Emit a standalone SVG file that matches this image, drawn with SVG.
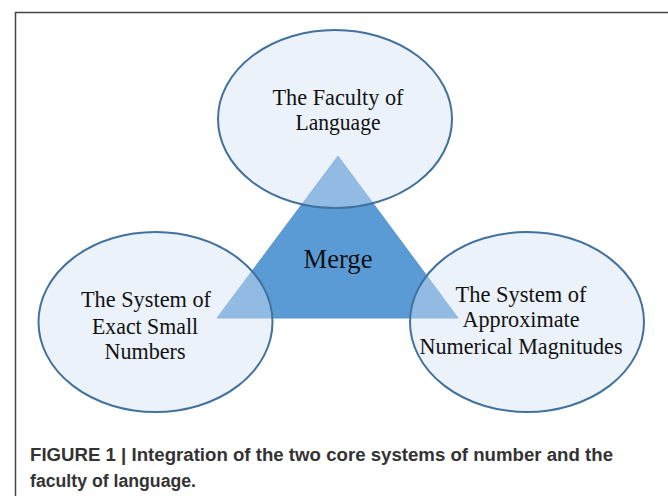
<svg xmlns="http://www.w3.org/2000/svg" width="668" height="496" viewBox="0 0 668 496">
<style>
.node ellipse{fill:rgb(210,227,243);fill-opacity:0.45;stroke:#41719C;stroke-width:2}
.lbl{font-family:"Liberation Serif","Times New Roman",serif;font-size:23px;fill:#111;text-anchor:middle}
.cap{font-family:"Liberation Sans",Arial,sans-serif;font-size:17.5px;font-weight:bold;fill:#333}
</style>
<rect x="0" y="0" width="668" height="496" fill="#fff"/>
<path d="M15.5 496 V12.5 H668" fill="none" stroke="#444" stroke-width="1.5"/>
<g id="merge">
<polygon points="338,156 217,318 458,318" fill="#5B9BD5" stroke="#5A93CB" stroke-width="1"/>
<text class="lbl" x="338" y="268" style="font-size:27px" textLength="69" lengthAdjust="spacingAndGlyphs">Merge</text>
</g>
<g id="faculty" class="node">
<ellipse cx="335" cy="119" rx="117" ry="89"/>
<text class="lbl" x="338" y="105" textLength="131" lengthAdjust="spacingAndGlyphs">The Faculty of</text>
<text class="lbl" x="338" y="130" textLength="85" lengthAdjust="spacingAndGlyphs">Language</text>
</g>
<g id="exact" class="node">
<ellipse cx="155.5" cy="322" rx="117" ry="90"/>
<text class="lbl" x="146" y="307" textLength="130" lengthAdjust="spacingAndGlyphs">The System of</text>
<text class="lbl" x="145" y="334" textLength="106" lengthAdjust="spacingAndGlyphs">Exact Small</text>
<text class="lbl" x="145" y="359" textLength="81" lengthAdjust="spacingAndGlyphs">Numbers</text>
</g>
<g id="approx" class="node">
<ellipse cx="527" cy="322" rx="117" ry="90"/>
<text class="lbl" x="521" y="302" textLength="131" lengthAdjust="spacingAndGlyphs">The System of</text>
<text class="lbl" x="521" y="327" textLength="117" lengthAdjust="spacingAndGlyphs">Approximate</text>
<text class="lbl" x="521" y="354" textLength="203" lengthAdjust="spacingAndGlyphs">Numerical Magnitudes</text>
</g>
<g id="connectors"/>
<text class="cap" x="30" y="461" textLength="583" lengthAdjust="spacingAndGlyphs">FIGURE 1 | Integration of the two core systems of number and the</text>
<text class="cap" x="30" y="487" textLength="166" lengthAdjust="spacingAndGlyphs">faculty of language.</text>
</svg>
